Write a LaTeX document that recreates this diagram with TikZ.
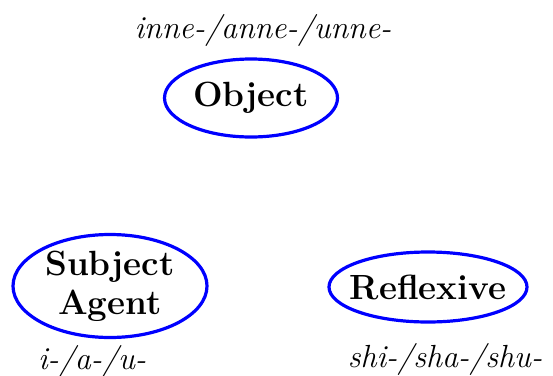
\documentclass[tikz,border=0pt]{standalone}
\usepackage{fontspec}
\usetikzlibrary{positioning, shapes.geometric}

\begin{document}
\begin{tikzpicture}[
    x=1pt, y=-1pt,
    node distance=6pt,
    role/.style = {ellipse, draw=blue, line width=3.2pt, align=center, inner sep=0pt,
                   font=\fontsize{35}{39}\selectfont\bfseries},
    affix/.style = {font=\fontsize{32}{36}\selectfont\itshape, inner sep=0pt}
]
\useasboundingbox (0,0) rectangle (553,375);

% Ellipses for the three roles
\node[role, minimum width=173pt, minimum height=78pt] (object) at (251,98) {Object};
\node[role, minimum width=194pt, minimum height=103pt] (subject) at (110,286) {Subject\\Agent};
\node[role, inner xsep=-9pt, minimum width=198pt, minimum height=70pt] (reflexive) at (428,287) {Reflexive};

% Affix labels
\node[affix, above=11pt of object, xshift=12pt] (objaffix) {inne-/anne-/unne-};
\node[affix, below=6pt of subject, xshift=-18pt] (subjaffix) {i-/a-/u-};
\node[affix, below=20pt of reflexive, xshift=17pt] (reflaffix) {shi-/sha-/shu-};

\end{tikzpicture}
\end{document}
